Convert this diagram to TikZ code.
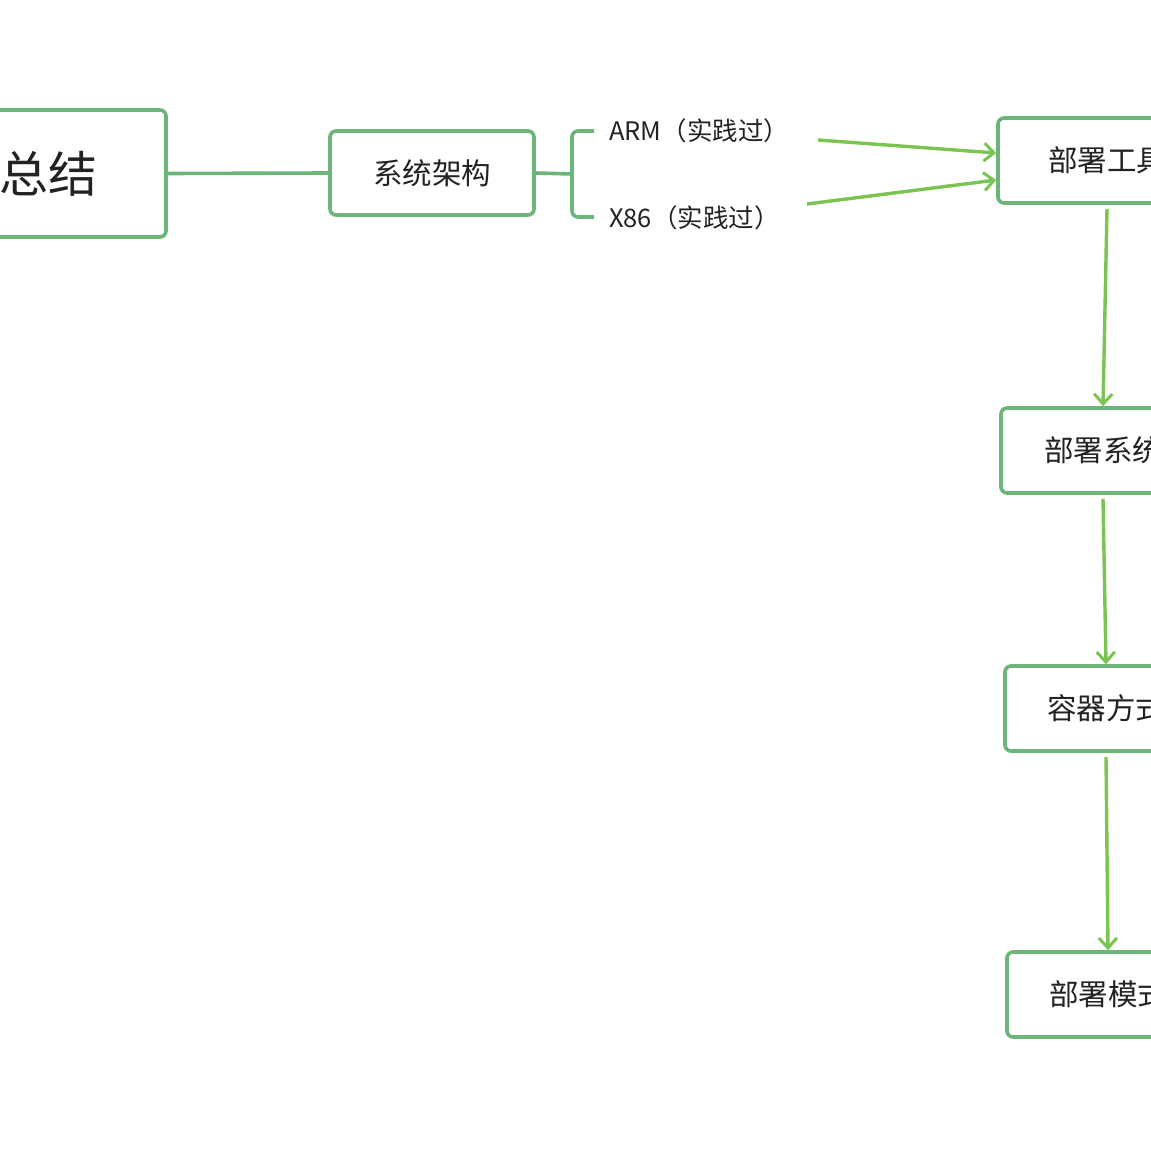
\documentclass[tikz,border=0pt]{standalone}
\usepackage{fontspec}
\newfontfamily\cjk{Noto Sans CJK SC}
\usetikzlibrary{arrows.meta}
\definecolor{boxgreen}{HTML}{6BB57A}
\definecolor{arrowgreen}{HTML}{7CC451}
\definecolor{txt}{HTML}{222222}
\begin{document}
\begin{tikzpicture}[x=1pt,y=-1pt,
 box/.style={draw=boxgreen, line width=3.6pt, rounded corners=6pt, fill=white, text=txt,
   font=\cjk\fontsize{29.5}{34}\selectfont, minimum height=85pt, inner sep=0pt},
 link/.style={draw=boxgreen, line width=3.6pt},
 arr/.style={draw=arrowgreen, line width=3.4pt, -{Straight Barb[length=10pt,width=18pt,line width=3pt]}},
 lbl/.style={text=txt, font=\cjk\fontsize{25.5}{30}\selectfont, anchor=west, inner sep=0pt}]
\useasboundingbox (0,0) rectangle (1151,1150);
\clip (0,0) rectangle (1151,1150);
\fill[white] (0,0) rectangle (1151,1150);

% nodes
\node[box, minimum width=330pt, minimum height=127pt, text width=194pt, align=right,
  font=\cjk\fontsize{49}{56}\selectfont] (root) at (1,173.5) {总结};
\node[box, minimum width=204pt, minimum height=84pt] (sys) at (432,173) {系统架构};
\node[lbl] (arm) at (609,131) {ARM（实践过）};
\node[lbl] (x86) at (609,218) {X86（实践过）};
\node[box, minimum width=218pt] (tools) at (1107,160.5) {部署工具};
\node[box, minimum width=204pt] (sysd) at (1103,450.5) {部署系统};
\node[box, minimum width=202pt] (cont) at (1106,708.5) {容器方式};
\node[box, minimum width=202pt] (mode) at (1108,994.5) {部署模式};

% bracket
\coordinate (bj) at (572,174);
\coordinate (bt) at (594,131);
\coordinate (bb) at (594,217);
\draw[link] (root.east) -- (sys.west);
\draw[link] (sys.east) -- (bj);
\draw[link, rounded corners=6pt] (bt) -| (bj) |- (bb);

% arrows
\coordinate (a1) at (818,140);
\coordinate (a2) at (807,204);
\draw[arr] (a1) -- ([yshift=7.5pt]tools.west);
\draw[arr] (a2) -- ([yshift=-19.5pt]tools.west);
\draw[arr] ([yshift=-4pt]tools.south) -- (sysd.north);
\draw[arr] ([yshift=-4pt]sysd.south) -- (cont.north);
\draw[arr] ([yshift=-4pt]cont.south) -- (mode.north);
\end{tikzpicture}
\end{document}
